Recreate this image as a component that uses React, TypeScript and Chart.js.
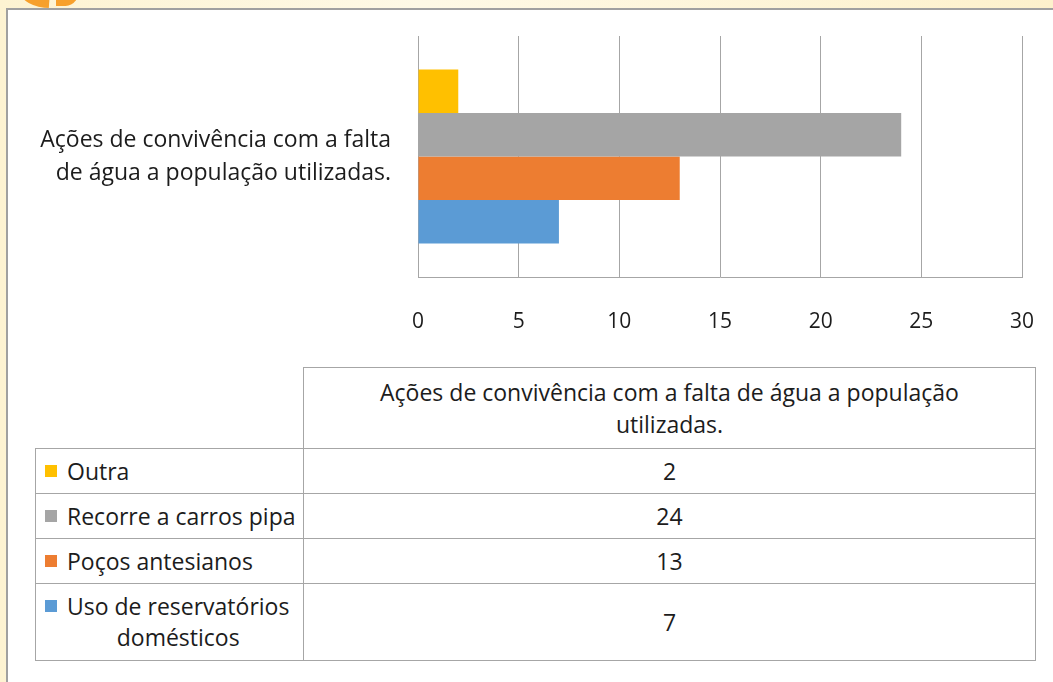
import React, { useEffect, useRef } from "react";
import { Chart, registerables } from "chart.js";

Chart.register(...registerables);

const categoryLines = ["Ações de convivência com a falta", "de água a população utilizadas."];
const tableHeaderLines = ["Ações de convivência com a falta de água a população", "utilizadas."];
const seriesNames = [
  ["Outra"],
  ["Recorre a carros pipa"],
  ["Poços antesianos"],
  ["Uso de reservatórios", "domésticos"],
];
const seriesValues = [2, 24, 13, 7];
const seriesColors = ["#FFC000", "#A5A5A5", "#ED7D31", "#5B9BD5"];
const xTicks = [0, 5, 10, 15, 20, 25, 30];

const FONT = "'Open Sans'";
const FS = 23;
const TEXT = "#1c1c1c";
const LINE = "#a6a6a6";

export default function App() {
  const ref = useRef<HTMLCanvasElement | null>(null);

  useEffect(() => {
    if (!ref.current) return;
    const chart = new Chart(ref.current, {
      type: "bar",
      data: {
        labels: [categoryLines],
        datasets: seriesNames.map((n, i) => ({
          label: n.join(" "),
          data: [seriesValues[i]],
          backgroundColor: seriesColors[i],
          borderWidth: 0,
          categoryPercentage: 0.722,
          barPercentage: 1,
        })),
      },
      options: {
        indexAxis: "y",
        responsive: false,
        animation: false,
        layout: { padding: { left: 0, right: 31, top: 36, bottom: 0 } },
        plugins: { legend: { display: false }, tooltip: { enabled: false } },
        scales: {
          x: {
            min: xTicks[0],
            max: xTicks[xTicks.length - 1],
            afterBuildTicks: (s: any) => {
              s.ticks = xTicks.map((v) => ({ value: v }));
            },
            afterFit: (s: any) => {
              s.height = 83;
              s.paddingLeft = 0;
              s.paddingRight = 0;
            },
            grid: { color: LINE, lineWidth: 1, drawTicks: false },
            border: { display: true, color: LINE, width: 1 },
            ticks: {
              padding: 32,
              color: TEXT,
              font: { family: FONT, size: 21 },
            },
          },
          y: {
            afterFit: (s: any) => {
              s.width = 418;
              s.paddingTop = 0;
              s.paddingBottom = 0;
            },
            grid: { display: false, drawTicks: false },
            border: { display: true, color: LINE, width: 1 },
            ticks: {
              padding: 27,
              color: TEXT,
              font: { family: FONT, size: FS, lineHeight: 1.435 },
            },
          },
        },
      },
    });
    return () => chart.destroy();
  }, []);

  const cellBorder = `1px solid ${LINE}`;
  const rowHeights = [45, 45, 45, 77];

  return (
    <div
      style={{
        position: "fixed",
        left: 0,
        top: 0,
        width: 1053,
        height: 682,
        overflow: "hidden",
        background: "linear-gradient(90deg, #fdf3d2 0%, #fef9e6 40%, #fdf1cc 100%)",
        fontFamily: FONT,
      }}
    >
      <div
        style={{
          position: "absolute",
          left: 20,
          top: -26,
          width: 60,
          height: 34,
          borderRadius: "50%",
          background: "#f7a02c",
          clipPath: "polygon(0 0, 52% 0, 48% 100%, 0 100%)",
        }}
      />
      <div
        style={{
          position: "absolute",
          left: 56,
          top: -26,
          width: 24,
          height: 32,
          borderRadius: "0 0 60% 0",
          background: "#f7a02c",
        }}
      />
      <div
        style={{
          position: "absolute",
          left: 6,
          top: 8,
          right: -4,
          bottom: -10,
          background: "#ffffff",
          borderLeft: "2px solid #a0a0a0",
          borderTop: "2px solid #a0a0a0",
        }}
      />
      <canvas
        ref={ref}
        width={1053}
        height={360}
        style={{ position: "absolute", left: 0, top: 0, width: 1053, height: 360 }}
      />
      <div
        style={{
          position: "absolute",
          left: 303,
          top: 367,
          width: 731,
          height: 80,
          borderTop: cellBorder,
          borderLeft: cellBorder,
          borderRight: cellBorder,
          display: "flex",
          flexDirection: "column",
          justifyContent: "center",
          alignItems: "center",
          fontSize: FS,
          lineHeight: "32px",
          color: TEXT,
        }}
      >
        {tableHeaderLines.map((l, i) => (
          <div key={i}>{l}</div>
        ))}
      </div>
      <table
        style={{
          position: "absolute",
          left: 35,
          top: 448,
          borderCollapse: "collapse",
          fontFamily: FONT,
          fontSize: FS,
          color: TEXT,
        }}
      >
        <tbody>
          {seriesNames.map((n, i) => (
            <tr key={i} style={{ height: rowHeights[i] }}>
              <td
                style={{
                  border: cellBorder,
                  width: 268,
                  padding: "0 0 0 9px",
                  boxSizing: "border-box",
                  verticalAlign: "middle",
                }}
              >
                <div style={{ display: "flex", alignItems: "flex-start", lineHeight: "31px" }}>
                  <span
                    style={{
                      display: "inline-block",
                      width: 12,
                      height: 12,
                      marginTop: 9,
                      marginRight: 10,
                      background: seriesColors[i],
                      flex: "none",
                    }}
                  />
                  <span style={{ display: "inline-block", textAlign: "center", whiteSpace: "nowrap" }}>
                    {n.map((l, j) => (
                      <div key={j}>{l}</div>
                    ))}
                  </span>
                </div>
              </td>
              <td
                style={{
                  border: cellBorder,
                  width: 732,
                  padding: 0,
                  boxSizing: "border-box",
                  textAlign: "center",
                  verticalAlign: "middle",
                }}
              >
                {seriesValues[i]}
              </td>
            </tr>
          ))}
        </tbody>
      </table>
    </div>
  );
}
